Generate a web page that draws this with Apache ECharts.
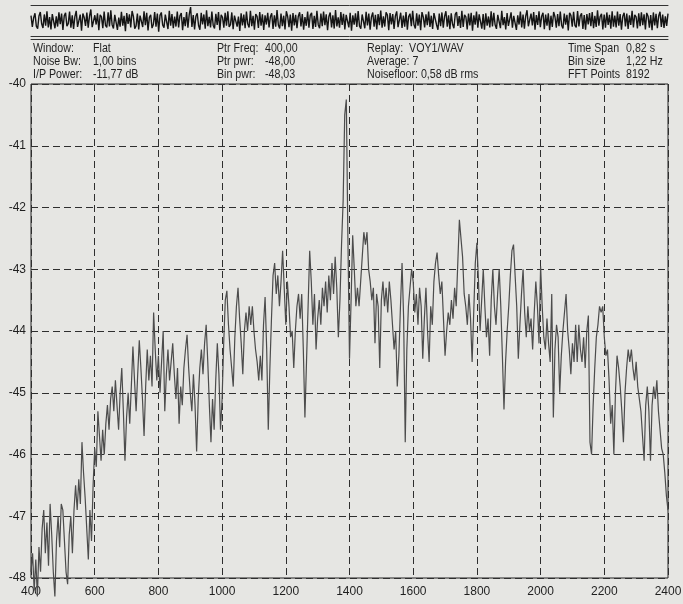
<!DOCTYPE html>
<html>
<head>
<meta charset="utf-8">
<script src="https://cdn.jsdelivr.net/npm/echarts/dist/echarts.min.js"></script>
<style>
  html, body { margin: 0; padding: 0; background: #e6e6e3; }
  #chart { width: 683px; height: 604px; }
</style>
</head>
<body>
<div id="chart"></div>
<script>
// spectrum, 400..2400 Hz in 5 Hz steps (dB)
const specStart = 400
const specStep = 5
const specDb = [
  -47.9, -47.6, -48.2, -47.7, -48.3, -47.5, -47.9, -47.2, -46.9, -47.6, -47.1, -47.8, -46.8, -47.3, -47.9, -48.3, -47.4, -47.0, -47.5, -46.8,
  -46.9, -47.4, -47.9, -48.1, -47.3, -47.0, -47.6, -46.9, -46.5, -46.9, -46.4, -46.8, -45.8, -46.3, -46.7, -47.2, -47.7, -46.9, -47.4, -46.5,
  -45.9, -46.2, -45.3, -45.7, -46.1, -45.6, -46.0, -45.5, -45.2, -45.6, -45.1, -44.9, -45.3, -44.8, -45.2, -45.6, -45.0, -44.6, -45.3, -46.1,
  -45.4, -45.0, -45.5, -44.9, -44.25, -44.8, -45.3, -44.7, -44.15, -44.6, -45.1, -45.7, -44.9, -44.3, -44.8, -44.4, -44.9, -43.7, -44.3, -44.8,
  -44.4, -45.0, -44.5, -44.0, -45.3, -44.7, -44.3, -44.8, -44.5, -44.2, -44.7, -45.1, -44.6, -45.5, -44.9, -45.2, -44.6, -44.3, -44.06, -44.6,
  -45.0, -45.3, -44.7, -45.2, -45.95, -45.1, -44.6, -44.3, -44.7, -44.2, -43.9, -44.5, -45.2, -45.8, -45.1, -45.6, -44.8, -44.2, -44.7, -45.6,
  -45.1, -44.2, -43.5, -43.35, -43.9, -44.3, -44.6, -44.9, -44.1, -43.6, -43.3, -43.8, -44.2, -44.7, -44.0, -43.7, -44.0, -43.6, -43.9, -43.6,
  -44.0, -44.3, -44.5, -44.8, -44.4, -44.8, -43.9, -43.45, -44.3, -45.6, -44.6, -43.8, -43.1, -42.9, -43.4, -43.1, -43.6, -43.2, -42.7, -43.3,
  -43.9, -43.2, -43.6, -44.1, -44.0, -44.6, -44.0, -43.6, -43.4, -43.8, -43.4, -44.3, -45.4, -44.5, -43.6, -42.7, -43.2, -43.9, -43.4, -44.3,
  -43.8, -43.5, -43.9, -43.3, -43.6, -43.2, -43.7, -43.1, -43.5, -42.9, -43.4, -42.8, -43.3, -44.1, -43.5, -42.6, -41.9, -40.5, -40.25, -42.5,
  -44.45, -43.5, -42.45, -43.0, -43.6, -43.3, -43.6, -43.2, -42.8, -42.4, -42.6, -42.4, -43.0, -43.2, -43.5, -43.3, -44.2, -43.4, -43.6, -44.6,
  -43.5, -43.2, -43.6, -43.3, -43.7, -43.2, -43.5, -43.9, -44.3, -44.0, -44.9, -44.4, -43.6, -42.9, -43.8, -45.8, -44.3, -43.6, -43.3, -43.0,
  -43.2, -43.7, -43.4, -43.9, -43.3, -43.6, -44.45, -43.8, -43.3, -44.0, -44.5, -43.6, -43.9, -43.2, -42.9, -42.73, -43.1, -43.4, -43.2, -43.8,
  -44.4, -44.0, -43.7, -43.9, -43.5, -43.8, -43.3, -43.6, -42.9, -42.2, -42.5, -42.8, -43.4, -43.6, -43.9, -43.4, -43.8, -44.5, -43.7, -42.9,
  -42.57, -43.2, -44.0, -43.5, -43.0, -43.6, -44.1, -43.8, -44.4, -43.5, -43.0, -43.6, -43.9, -43.4, -43.0, -43.6, -44.4, -45.27, -44.5, -44.0,
  -43.6, -43.1, -42.7, -42.6, -43.1, -43.6, -44.45, -43.9, -43.4, -43.0, -43.7, -44.1, -43.6, -44.0, -43.8, -44.3, -43.7, -43.2, -43.6, -44.2,
  -42.95, -43.6, -44.1, -44.3, -43.8, -44.2, -44.5, -43.4, -45.4, -44.3, -43.9, -44.1, -45.0, -44.4, -44.0, -43.7, -43.4, -44.0, -44.3, -44.7,
  -44.2, -44.5, -43.9, -44.5, -43.9, -44.3, -44.5, -44.1, -44.6, -44.0, -43.75, -45.8, -46.0, -45.2, -44.6, -44.1, -43.9, -43.6, -43.7, -43.6,
  -44.1, -44.4, -44.3, -44.8, -45.5, -45.2, -46.0, -45.0, -44.4, -44.6, -44.9, -45.3, -45.8, -45.0, -44.6, -44.3, -44.5, -44.3, -44.6, -44.8,
  -44.5, -44.9, -45.1, -45.3, -45.7, -46.1, -45.2, -44.9, -45.3, -46.1, -45.2, -44.9, -45.1, -44.8, -45.3, -45.6, -45.9, -46.0, -46.3, -46.67,
  -46.9
]

// time-domain strip at the top (relative amplitude)
const waveAmp = [
  0.31, -0.42, 0.18, 0.47, -0.36, -0.52, 0.29, 0.55, -0.21, -0.48, 0.39, -0.33, 0.6, -0.45, 0.22, -0.58, 0.41, 0.35, -0.5, 0.27,
  -0.39, 0.52, -0.24, 0.44, -0.61, 0.3, 0.49, -0.37, -0.2, 0.57, -0.46, 0.33, -0.54, 0.25, 0.62, -0.41, -0.29, 0.38, -0.66, 0.45,
  0.2, -0.35, 0.51, -0.47, 0.28, 0.71, -0.43, -0.55, 0.34, -0.26, 0.46, -0.62, 0.37, 0.23, -0.49, 0.58, -0.31, -0.44, 0.53, -0.38,
  0.65, -0.27, -0.51, 0.36, 0.43, -0.6, 0.19, -0.4, 0.56, -0.33, 0.3, -0.69, 0.48, -0.22, 0.4, -0.45, 0.61, 0.27, -0.53, -0.35,
  0.44, -0.57, 0.32, 0.24, -0.42, 0.59, -0.3, 0.5, -0.64, 0.21, 0.37, -0.49, -0.26, 0.54, -0.4, 0.45, -0.72, 0.33, 0.52, -0.28,
  -0.46, 0.38, 0.29, -0.55, 0.63, -0.34, 0.42, -0.5, 0.26, -0.39, 0.57, -0.44, 0.31, 0.48, -0.63, 0.22, -0.36, 0.55, -0.47, 0.4,
  0.86, -0.41, 0.35, -0.58, 0.27, 0.46, -0.32, -0.6, 0.5, -0.25, 0.39, -0.53, 0.66, -0.37, 0.23, -0.45, 0.58, -0.3, -0.51, 0.43,
  -0.28, 0.54, -0.62, 0.36, 0.21, -0.47, 0.49, -0.34, 0.6, -0.42, -0.27, 0.52, -0.56, 0.32, 0.44, -0.39, 0.25, -0.67, 0.47, -0.31,
  0.38, -0.5, 0.57, -0.23, -0.45, 0.63, -0.36, 0.3, -0.59, 0.42, 0.27, -0.48, 0.55, -0.33, 0.4, -0.61, 0.34, -0.26, 0.5, -0.44,
  0.24, 0.47, -0.54, 0.33, -0.4, 0.68, -0.29, -0.52, 0.45, -0.37, 0.31, -0.57, 0.6, 0.26, -0.43, 0.39, -0.65, 0.48, -0.32, 0.36,
  -0.49, 0.28, 0.53, -0.38, 0.42, -0.6, 0.22, -0.34, 0.58, -0.46, 0.35, 0.49, -0.55, 0.3, -0.41, 0.62, -0.27, -0.5, 0.44, -0.36,
  0.57, -0.3, 0.4, -0.63, 0.26, 0.51, -0.44, 0.33, -0.52, 0.67, -0.38, 0.21, -0.47, 0.55, -0.29, 0.43, -0.58, 0.36, 0.25, -0.45,
  0.5, -0.66, 0.34, -0.27, 0.46, -0.41, 0.61, -0.35, -0.53, 0.39, 0.28, -0.5, 0.56, -0.32, 0.45, -0.6, 0.23, 0.52, -0.4, 0.37,
  -0.57, 0.42, -0.3, 0.64, -0.46, 0.27, -0.39, 0.53, 0.35, -0.62, 0.48, -0.25, 0.41, -0.54, 0.3, 0.59, -0.43, -0.33, 0.5, -0.48,
  0.32, -0.4, 0.55, -0.59, 0.26, 0.44, -0.36, 0.62, -0.28, -0.51, 0.47, -0.34, 0.38, -0.63, 0.54, 0.22, -0.45, 0.4, -0.3, 0.58,
  -0.42, 0.31, -0.55, 0.48, 0.36, -0.29, -0.6, 0.45, -0.37, 0.52, -0.47, 0.27, 0.6, -0.4, 0.33, -0.56, 0.46, -0.24, -0.5, 0.39,
  0.55, -0.35, 0.29, -0.48, 0.62, -0.42, 0.37, 0.24, -0.58, 0.44, -0.31, 0.5, -0.65, 0.34, -0.27, 0.57, -0.46, 0.4, 0.3, -0.53,
  0.41, -0.6, 0.47, -0.33, 0.26, -0.45, 0.59, -0.38, 0.5, -0.28, -0.54, 0.36, 0.45, -0.49, 0.63, -0.3, 0.22, -0.57, 0.48, -0.35,
  -0.4, 0.53, -0.47, 0.3, 0.42, -0.61, 0.34, -0.26, 0.57, -0.44, 0.39, -0.52, 0.28, 0.66, -0.37, -0.48, 0.45, -0.32, 0.54, -0.59,
  0.35, -0.29, 0.6, -0.43, 0.27, 0.5, -0.56, 0.38, -0.34, 0.46, -0.62, 0.31, -0.41, 0.55, 0.24, -0.47, 0.42, -0.36, 0.58, -0.3,
  -0.52, 0.44, -0.27, 0.37, -0.64, 0.49, 0.33, -0.4, 0.56, -0.31, -0.45, 0.61, -0.38, 0.29, 0.47, -0.55, 0.35, -0.6, 0.41, -0.25,
  0.48, -0.37, 0.54, -0.5, 0.3, -0.42, 0.65, -0.33, 0.26, 0.43, -0.58, 0.39, -0.47, 0.52, -0.28, 0.36, -0.53, 0.6, -0.4, 0.32,
  -0.45, 0.57, -0.34, 0.41, -0.6, 0.27, 0.5, -0.38, 0.45, -0.55, 0.33, -0.29, 0.62, -0.44, 0.37, 0.24, -0.51, 0.46, -0.36, 0.53,
  -0.3, 0.4, -0.57, 0.49, 0.28, -0.46, 0.35, -0.63, 0.52, -0.32, 0.43, -0.5, 0.3, 0.56, -0.41, 0.38, -0.48, 0.27, -0.35, 0.44
]

// info block above the plot
const infoCol1 = ['Window:', 'Noise Bw:', 'I/P Power:']
const infoVal1 = ['Flat', '1,00 bins', '-11,77 dB']
const infoCol2 = ['Ptr Freq:', 'Ptr pwr:', 'Bin pwr:']
const infoVal2 = ['400,00', '-48,00', '-48,03']
const infoCol3 = ['Replay:  VOY1/WAV', 'Average: 7', 'Noisefloor: 0,58 dB rms']
const infoCol4 = ['Time Span', 'Bin size', 'FFT Points']
const infoVal4 = ['0,82 s', '1,22 Hz', '8192']

const FONT = '"Liberation Sans", Arial, sans-serif'
const INK = '#1f1f1f'

const chart = echarts.init(document.getElementById('chart'))

const specData = specDb.map((v, i) => [specStart + i * specStep, v])
const waveData = waveAmp.map((v, i) => [i, v])

// text rows for the info block (the scan is horizontally squeezed, hence scaleX)
const infoText = []
const cols = [[infoCol1, 33], [infoVal1, 93], [infoCol2, 217], [infoVal2, 265], [infoCol3, 367], [infoCol4, 568], [infoVal4, 626]]
const rowY = [42, 55, 68]
cols.forEach(([arr, x]) => {
  arr.forEach((t, r) => {
    infoText.push({
      type: 'text', x: x, y: rowY[r], scaleX: 0.82,
      style: {text: t, fill: INK, font: '13px ' + FONT, textAlign: 'left', textVerticalAlign: 'top'}
    })
  })
})

const dash = {color: '#2e2e2e', width: 1, type: [7, 4]}

const option = {
  backgroundColor: '#e6e6e3',
  animation: false,
  textStyle: {fontFamily: FONT},
  graphic: infoText,
  grid: [
    {left: 31, right: 15, top: 84, bottom: 26, show: true, borderColor: '#222', borderWidth: 1, containLabel: false, outerBoundsMode: 'none'},
    {left: 31, right: 15, top: 5, height: 31, containLabel: false, outerBoundsMode: 'none'}
  ],
  xAxis: [
    {
      type: 'value', gridIndex: 0, min: 400, max: 2400, interval: 200,
      axisLine: {show: false}, axisTick: {show: false},
      axisLabel: {color: INK, fontSize: 12, margin: 8, fontFamily: FONT, showMinLabel: true, showMaxLabel: true,
        formatter: v => String(v)},
      splitLine: {show: true, lineStyle: dash}
    },
    {
      type: 'value', gridIndex: 1, min: 0, max: waveAmp.length - 1, position: 'bottom',
      axisLine: {show: true, onZero: false, lineStyle: {color: '#333', width: 1}},
      axisTick: {show: false}, axisLabel: {show: false}, splitLine: {show: false}
    },
    {
      type: 'value', gridIndex: 1, min: 0, max: waveAmp.length - 1, position: 'top',
      axisLine: {show: true, onZero: false, lineStyle: {color: '#333', width: 1}},
      axisTick: {show: false}, axisLabel: {show: false}, splitLine: {show: false}
    },
    {
      type: 'value', gridIndex: 1, min: 0, max: waveAmp.length - 1, position: 'bottom', offset: 3,
      axisLine: {show: true, onZero: false, lineStyle: {color: '#333', width: 1}},
      axisTick: {show: false}, axisLabel: {show: false}, splitLine: {show: false}
    }
  ],
  yAxis: [
    {
      type: 'value', gridIndex: 0, min: -48, max: -40, interval: 1,
      axisLine: {show: false}, axisTick: {show: false},
      axisLabel: {color: INK, fontSize: 12, margin: 5, fontFamily: FONT},
      splitLine: {show: true, lineStyle: dash}
    },
    {
      type: 'value', gridIndex: 1, min: -1, max: 1,
      axisLine: {show: false}, axisTick: {show: false}, axisLabel: {show: false}, splitLine: {show: false}
    }
  ],
  series: [
    {
      type: 'line', xAxisIndex: 0, yAxisIndex: 0, data: specData,
      showSymbol: false, clip: false,
      lineStyle: {color: '#4c4c4c', width: 1.2}
    },
    {
      type: 'line', xAxisIndex: 1, yAxisIndex: 1, data: waveData,
      showSymbol: false,
      lineStyle: {color: '#141414', width: 1.4}
    }
  ]
}

chart.setOption(option)
</script>
</body>
</html>
